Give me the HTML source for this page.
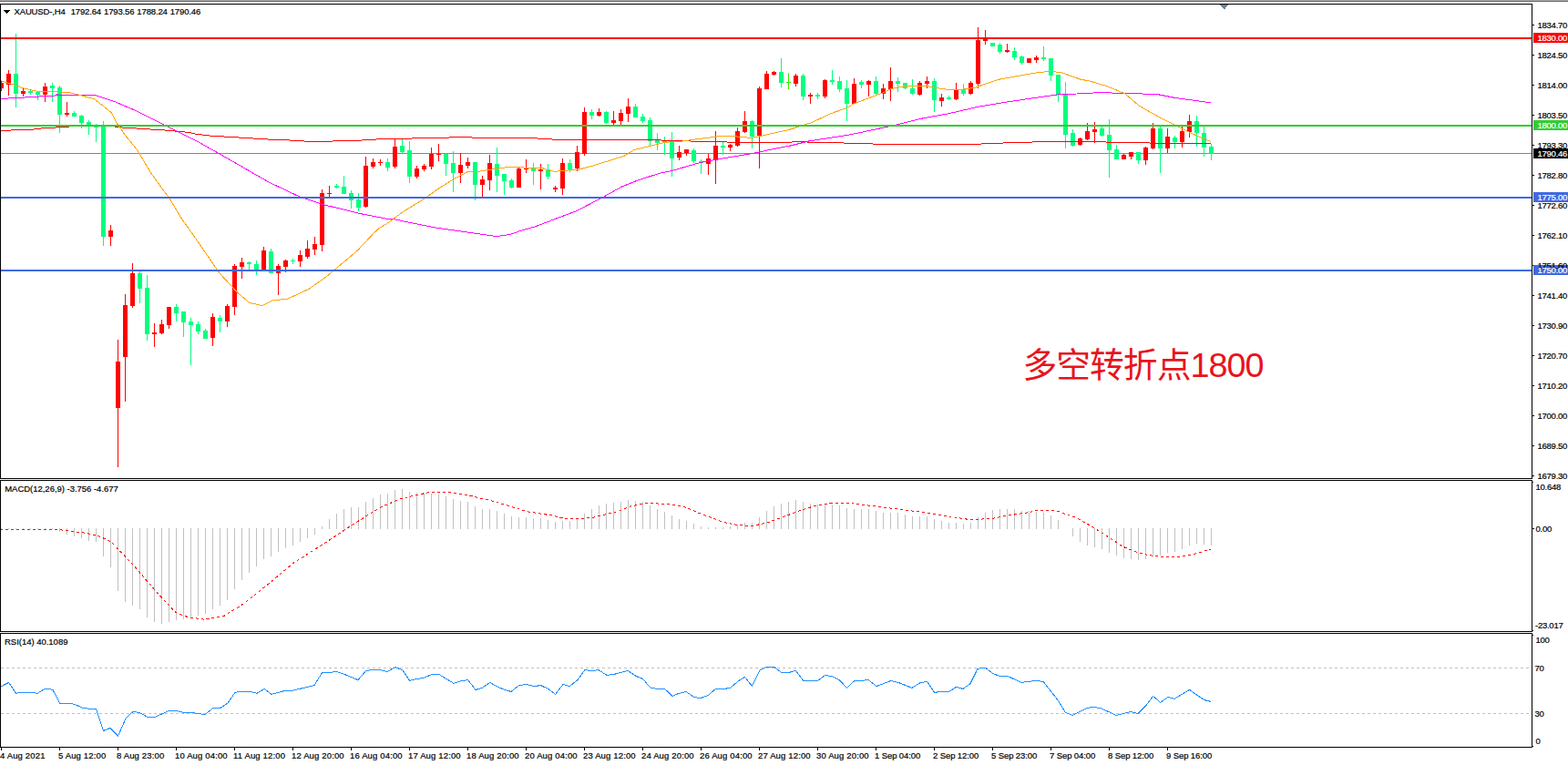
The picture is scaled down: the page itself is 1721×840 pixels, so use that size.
<!DOCTYPE html><html><head><meta charset="utf-8"><title>XAUUSD H4</title><style>
html,body{margin:0;padding:0;background:#fff}body{width:1721px;height:840px;overflow:hidden;position:relative;font-family:"Liberation Sans",sans-serif}
svg{position:absolute;left:0;top:0;display:block}
text{font-family:"Liberation Sans",sans-serif;font-size:9.5px;fill:#000;stroke:#000;stroke-width:0.2px}
.ax{letter-spacing:-0.25px}.tt{letter-spacing:-0.14px;word-spacing:0.5px}.ds{letter-spacing:-0.1px}.lb{letter-spacing:-0.02px}.dt{letter-spacing:0.15px}.w{fill:#fff;stroke:#fff}
</style></head><body>
<svg width="1721" height="840" viewBox="0 0 1721 840">
<rect width="1721" height="840" fill="#fff"/>
<g shape-rendering="crispEdges">
<rect x="0" y="0" width="1721" height="1" fill="#a9a9a9"/><rect x="0" y="1" width="1721" height="1" fill="#696969"/>
<rect x="1" y="168" width="1680" height="1" fill="#778899"/>
<path d="M1 89h1v11h-1zM-1 91h5v6h-5zM9 77h1v28h-1zM7 81h5v12h-5zM25 97h1v9h-1zM23 100h5v3h-5zM49 91h1v21h-1zM47 95h5v9h-5zM73 112h1v16h-1zM71 124h5v2h-5zM121 247h1v23h-1zM119 253h5v7h-5zM129 373h1v140h-1zM127 397h5v51h-5zM137 323h1v118h-1zM135 335h5v57h-5zM145 289h1v49h-1zM143 300h5v36h-5zM169 355h1v26h-1zM167 365h5v2h-5zM177 351h1v16h-1zM175 356h5v10h-5zM185 337h1v24h-1zM183 337h5v20h-5zM233 344h1v36h-1zM231 348h5v23h-5zM249 334h1v25h-1zM247 336h5v17h-5zM257 290h1v56h-1zM255 292h5v45h-5zM265 283h1v23h-1zM263 288h5v5h-5zM289 271h1v26h-1zM287 275h5v22h-5zM305 290h1v34h-1zM303 292h5v8h-5zM313 285h1v14h-1zM311 286h5v7h-5zM329 275h1v18h-1zM327 280h5v7h-5zM337 264h1v20h-1zM335 273h5v9h-5zM345 260h1v20h-1zM343 268h5v6h-5zM353 208h1v68h-1zM351 212h5v57h-5zM361 204h1v13h-1zM359 212h5v1h-5zM401 172h1v56h-1zM399 182h5v45h-5zM409 174h1v11h-1zM407 178h5v5h-5zM417 175h1v7h-1zM415 178h5v1h-5zM433 153h1v32h-1zM431 161h5v22h-5zM457 182h1v14h-1zM455 185h5v9h-5zM465 180h1v8h-1zM463 182h5v4h-5zM473 162h1v24h-1zM471 169h5v14h-5zM481 158h1v19h-1zM479 169h5v1h-5zM505 168h1v33h-1zM503 181h5v9h-5zM513 173h1v12h-1zM511 178h5v4h-5zM529 193h1v24h-1zM527 197h5v6h-5zM537 170h1v39h-1zM535 179h5v19h-5zM569 184h1v22h-1zM567 185h5v21h-5zM577 175h1v15h-1zM575 185h5v1h-5zM593 180h1v28h-1zM591 186h5v2h-5zM609 204h1v7h-1zM607 206h5v2h-5zM617 174h1v40h-1zM615 179h5v28h-5zM633 160h1v28h-1zM631 167h5v18h-5zM641 118h1v53h-1zM639 123h5v46h-5zM657 119h1v9h-1zM655 123h5v4h-5zM673 122h1v15h-1zM671 132h5v3h-5zM681 120h1v17h-1zM679 124h5v9h-5zM689 108h1v26h-1zM687 117h5v8h-5zM745 160h1v16h-1zM743 167h5v6h-5zM753 164h1v7h-1zM751 164h5v4h-5zM777 169h1v23h-1zM775 174h5v6h-5zM785 144h1v58h-1zM783 160h5v16h-5zM801 158h1v8h-1zM799 159h5v3h-5zM809 140h1v21h-1zM807 144h5v16h-5zM817 122h1v24h-1zM815 133h5v12h-5zM833 95h1v90h-1zM831 97h5v52h-5zM841 78h1v20h-1zM839 81h5v17h-5zM849 78h1v5h-1zM847 79h5v3h-5zM873 81h1v14h-1zM871 83h5v9h-5zM889 102h1v12h-1zM887 104h5v2h-5zM905 87h1v21h-1zM903 88h5v18h-5zM937 86h1v28h-1zM935 92h5v22h-5zM953 88h1v18h-1zM951 89h5v4h-5zM969 92h1v17h-1zM967 97h5v6h-5zM977 74h1v37h-1zM975 89h5v9h-5zM1009 89h1v16h-1zM1007 91h5v13h-5zM1017 84h1v13h-1zM1015 89h5v3h-5zM1033 103h1v14h-1zM1031 107h5v4h-5zM1049 91h1v19h-1zM1047 99h5v10h-5zM1065 89h1v15h-1zM1063 91h5v12h-5zM1073 30h1v67h-1zM1071 44h5v48h-5zM1081 33h1v16h-1zM1079 43h5v2h-5zM1105 48h1v10h-1zM1103 55h5v2h-5zM1129 64h1v5h-1zM1127 64h5v5h-5zM1137 61h1v8h-1zM1135 63h5v3h-5zM1185 151h1v9h-1zM1183 152h5v7h-5zM1193 135h1v19h-1zM1191 144h5v9h-5zM1201 134h1v23h-1zM1199 142h5v3h-5zM1233 169h1v6h-1zM1231 170h5v5h-5zM1241 167h1v8h-1zM1239 167h5v5h-5zM1257 161h1v20h-1zM1255 162h5v14h-5zM1265 135h1v29h-1zM1263 141h5v22h-5zM1281 141h1v27h-1zM1279 150h5v13h-5zM1297 139h1v23h-1zM1295 144h5v12h-5zM1305 126h1v25h-1zM1303 133h5v12h-5z" fill="#ff0000"/>
<path d="M17 37h1v81h-1zM15 81h5v22h-5zM33 99h1v5h-1zM31 100h5v2h-5zM41 100h1v10h-1zM39 101h5v3h-5zM57 91h1v21h-1zM55 94h5v3h-5zM65 94h1v52h-1zM63 96h5v30h-5zM81 122h1v6h-1zM79 124h5v4h-5zM89 126h1v15h-1zM87 127h5v8h-5zM97 132h1v16h-1zM95 134h5v3h-5zM105 136h1v20h-1zM103 138h5v2h-5zM113 133h1v137h-1zM111 137h5v123h-5zM153 298h1v35h-1zM151 300h5v17h-5zM161 302h1v72h-1zM159 316h5v51h-5zM193 334h1v19h-1zM191 337h5v7h-5zM201 342h1v28h-1zM199 342h5v12h-5zM209 349h1v52h-1zM207 353h5v4h-5zM217 353h1v14h-1zM215 356h5v8h-5zM225 361h1v11h-1zM223 363h5v9h-5zM241 346h1v19h-1zM239 349h5v4h-5zM273 287h1v10h-1zM271 288h5v2h-5zM281 286h1v16h-1zM279 290h5v6h-5zM297 273h1v27h-1zM295 276h5v24h-5zM321 284h1v6h-1zM319 286h5v1h-5zM369 202h1v5h-1zM367 204h5v2h-5zM377 193h1v20h-1zM375 205h5v8h-5zM385 209h1v20h-1zM383 212h5v8h-5zM393 212h1v20h-1zM391 219h5v9h-5zM425 174h1v14h-1zM423 178h5v6h-5zM441 153h1v15h-1zM439 160h5v7h-5zM449 155h1v46h-1zM447 165h5v29h-5zM489 168h1v25h-1zM487 169h5v11h-5zM497 166h1v45h-1zM495 179h5v11h-5zM521 178h1v42h-1zM519 178h5v25h-5zM545 162h1v49h-1zM543 180h5v13h-5zM553 191h1v23h-1zM551 191h5v8h-5zM561 196h1v11h-1zM559 198h5v8h-5zM585 179h1v24h-1zM583 185h5v3h-5zM601 180h1v17h-1zM599 186h5v8h-5zM625 175h1v14h-1zM623 179h5v7h-5zM649 120h1v11h-1zM647 123h5v4h-5zM665 122h1v14h-1zM663 123h5v12h-5zM697 114h1v15h-1zM695 117h5v12h-5zM705 125h1v10h-1zM703 128h5v5h-5zM713 129h1v31h-1zM711 132h5v23h-5zM721 146h1v19h-1zM719 154h5v3h-5zM729 150h1v20h-1zM727 155h5v2h-5zM737 145h1v49h-1zM735 155h5v19h-5zM761 163h1v16h-1zM759 165h5v12h-5zM769 175h1v16h-1zM767 177h5v2h-5zM793 156h1v14h-1zM791 160h5v2h-5zM825 132h1v31h-1zM823 133h5v17h-5zM857 64h1v32h-1zM855 79h5v12h-5zM881 81h1v29h-1zM879 83h5v23h-5zM897 102h1v7h-1zM895 104h5v2h-5zM913 77h1v16h-1zM911 88h5v2h-5zM921 84h1v17h-1zM919 89h5v9h-5zM929 88h1v45h-1zM927 97h5v17h-5zM945 88h1v9h-1zM943 90h5v3h-5zM961 84h1v20h-1zM959 89h5v14h-5zM985 85h1v16h-1zM983 89h5v3h-5zM993 91h1v7h-1zM991 91h5v6h-5zM1001 87h1v17h-1zM999 97h5v6h-5zM1025 86h1v37h-1zM1023 89h5v21h-5zM1041 105h1v5h-1zM1039 107h5v2h-5zM1057 92h1v13h-1zM1055 98h5v5h-5zM1089 47h1v4h-1zM1087 47h5v4h-5zM1097 47h1v12h-1zM1095 49h5v8h-5zM1113 52h1v14h-1zM1111 56h5v7h-5zM1121 61h1v10h-1zM1119 62h5v7h-5zM1145 51h1v16h-1zM1143 63h5v2h-5zM1153 64h1v25h-1zM1151 64h5v19h-5zM1161 82h1v30h-1zM1159 82h5v22h-5zM1169 90h1v73h-1zM1167 103h5v45h-5zM1177 142h1v19h-1zM1175 146h5v14h-5zM1209 139h1v11h-1zM1207 141h5v8h-5zM1217 131h1v64h-1zM1215 148h5v17h-5zM1225 159h1v16h-1zM1223 164h5v11h-5zM1249 167h1v13h-1zM1247 167h5v9h-5zM1273 139h1v51h-1zM1271 141h5v22h-5zM1289 149h1v14h-1zM1287 151h5v5h-5zM1313 127h1v34h-1zM1311 133h5v13h-5zM1321 139h1v33h-1zM1319 146h5v16h-5zM1329 158h1v18h-1zM1327 161h5v8h-5z" fill="#00ff7f"/>
<path d="M865 80h1v18h-1zM863 90h5v1h-5z" fill="#33ee00"/>
</g>
<g shape-rendering="crispEdges">
<path d="M0 143h12v1h-12zM12 142h25v1h-25zM37 141h8v1h-8zM45 140h16v1h-16zM61 139h15v1h-15zM76 138h50v1h-50zM126 139h8v1h-8zM134 140h16v1h-16zM150 141h15v1h-15zM165 142h16v1h-16zM181 143h11v1h-11zM192 144h11v1h-11zM203 145h7v1h-7zM210 146h4v1h-4zM214 147h8v1h-8zM222 148h8v1h-8zM230 149h16v1h-16zM246 150h16v1h-16zM262 151h16v1h-16zM278 152h16v1h-16zM294 153h24v1h-24zM318 154h16v1h-16zM334 155h31v1h-31zM365 154h32v1h-32zM397 153h16v1h-16zM413 152h39v1h-39zM452 151h41v1h-41zM493 150h25v1h-25zM518 151h72v1h-72zM590 152h16v1h-16zM606 153h120v1h-120zM726 154h32v1h-32zM758 155h40v1h-40zM798 156h71v1h-71zM869 155h17v1h-17zM886 156h40v1h-40zM926 157h32v1h-32zM958 158h119v1h-119zM1077 157h24v1h-24zM1101 156h32v1h-32zM1133 155h81v1h-81zM1214 156h48v1h-48zM1262 157h67v1h-67z" fill="#ff0000"/>
<polyline points="0,108.5 18.75,107.5 60,105 62.5,104 106,105 125,111.25 150,121.9 178.75,136.25 215,154.4 240,168.4 295,200 324,213.75 328.75,216 353.75,224.4 397.5,235 425,240.4 432.5,240.75 475,249.5 512.5,255 545,259.5 560,257.5 570,253.75 587.5,248.75 612.5,239.25 632.5,231.75 660,217.5 682.5,205 700,198 725,190 737.5,187.5 767.5,178.75 787.5,175 825,168.75 845,164.4 867.5,160 887.5,155 932.5,148 975,139 984,137 1012.5,130 1040,125 1072.5,117.5 1110,111.25 1160,104 1172.5,103.5 1214,101.25 1222.5,102.25 1246,102.75 1270,103.5 1290,107.5 1329,112.75" fill="none" stroke="#ff00ff" stroke-width="1" />
<polyline points="0,88.5 17.5,93.75 25.6,96.9 41,100.25 75,101.25 87.5,104.4 103.75,108.75 122.5,123.75 128.75,136.25 137.5,148.5 151.25,165.5 165,189 180,210 185,216.2 200,241 215,262.2 237.5,295 241,300 260,320.6 273.75,332.5 288,335.6 300,329.6 315,328.5 338.75,317.5 357.5,304.4 368.75,295 392.5,275 410,256.25 416,250.5 424,246 442.5,232.5 466,218 482.5,206.25 497.5,197 513,188.75 524,188.5 535,186.6 550,184.75 557.5,183.4 574,183.4 576,184.75 595,184.5 600,186.25 609,188.5 615,187.5 635,186.25 651,181.9 685,171.25 696,164.6 717.5,159.4 730,156.25 749,155 760,153.4 790,149.6 805,149.6 825,151.5 835,149.4 845,147 866,142.5 884,136.6 890,135 912.5,124.4 929,118.75 937.5,113.75 969,101.9 977.5,97.9 987.5,95.25 1000,94.4 1020,95 1030,96.9 1040,98.25 1050,98.75 1069,96.6 1082.5,91.9 1097.5,87 1122.5,82.5 1141,79.4 1154,78.4 1166,80 1185,86.9 1197.5,89.4 1216,95 1235,103 1250,116 1272.5,128.75 1290,137.5 1306,145.6 1329,155.6" fill="none" stroke="#ffa500" stroke-width="1" />
<rect x="1" y="41" width="1680" height="2" fill="#ff0000"/>
<rect x="1" y="137" width="1680" height="2" fill="#32cd32"/>
<rect x="1" y="216" width="1680" height="2" fill="#4169e1"/>
<rect x="1" y="296" width="1680" height="2" fill="#4169e1"/>
<path d="M65 580h1v4h-1zM73 580h1v7h-1zM81 580h1v9h-1zM89 580h1v11h-1zM97 580h1v14h-1zM105 580h1v15h-1zM113 580h1v31h-1zM121 580h1v43h-1zM129 580h1v69h-1zM137 580h1v81h-1zM145 580h1v85h-1zM153 580h1v89h-1zM161 580h1v98h-1zM169 580h1v103h-1zM177 580h1v105h-1zM185 580h1v103h-1zM193 580h1v101h-1zM201 580h1v100h-1zM209 580h1v98h-1zM217 580h1v96h-1zM225 580h1v94h-1zM233 580h1v89h-1zM241 580h1v85h-1zM249 580h1v79h-1zM257 580h1v67h-1zM265 580h1v57h-1zM273 580h1v49h-1zM281 580h1v42h-1zM289 580h1v34h-1zM297 580h1v31h-1zM305 580h1v26h-1zM313 580h1v22h-1zM321 580h1v19h-1zM329 580h1v15h-1zM337 580h1v11h-1zM345 580h1v7h-1zM353 578h1v3h-1zM361 570h1v11h-1zM369 564h1v17h-1zM377 559h1v22h-1zM385 557h1v24h-1zM393 557h1v24h-1zM401 551h1v30h-1zM409 547h1v34h-1zM417 543h1v38h-1zM425 542h1v39h-1zM433 538h1v43h-1zM441 537h1v44h-1zM449 540h1v41h-1zM457 541h1v40h-1zM465 542h1v39h-1zM473 542h1v39h-1zM481 543h1v38h-1zM489 545h1v36h-1zM497 548h1v33h-1zM505 550h1v31h-1zM513 551h1v30h-1zM521 556h1v25h-1zM529 559h1v22h-1zM537 559h1v22h-1zM545 561h1v20h-1zM553 564h1v17h-1zM561 567h1v14h-1zM569 568h1v13h-1zM577 568h1v13h-1zM585 569h1v12h-1zM593 569h1v12h-1zM601 571h1v10h-1zM609 573h1v8h-1zM617 572h1v9h-1zM625 572h1v9h-1zM633 570h1v11h-1zM641 564h1v17h-1zM649 559h1v22h-1zM657 555h1v26h-1zM665 553h1v28h-1zM673 552h1v29h-1zM681 551h1v30h-1zM689 549h1v32h-1zM697 550h1v31h-1zM705 551h1v30h-1zM713 555h1v26h-1zM721 559h1v22h-1zM729 562h1v19h-1zM737 566h1v15h-1zM745 570h1v11h-1zM753 572h1v9h-1zM761 575h1v6h-1zM769 578h1v3h-1zM777 579h1v2h-1zM785 579h1v2h-1zM793 579h1v2h-1zM801 578h1v3h-1zM809 576h1v5h-1zM817 574h1v7h-1zM825 574h1v7h-1zM833 568h1v13h-1zM841 561h1v20h-1zM849 556h1v25h-1zM857 553h1v28h-1zM865 551h1v30h-1zM873 549h1v32h-1zM881 551h1v30h-1zM889 553h1v28h-1zM897 554h1v27h-1zM905 554h1v27h-1zM913 554h1v27h-1zM921 555h1v26h-1zM929 558h1v23h-1zM937 559h1v22h-1zM945 559h1v22h-1zM953 559h1v22h-1zM961 561h1v20h-1zM969 563h1v18h-1zM977 563h1v18h-1zM985 563h1v18h-1zM993 565h1v16h-1zM1001 567h1v14h-1zM1009 567h1v14h-1zM1017 567h1v14h-1zM1025 570h1v11h-1zM1033 572h1v9h-1zM1041 574h1v7h-1zM1049 574h1v7h-1zM1057 575h1v6h-1zM1065 574h1v7h-1zM1073 568h1v13h-1zM1081 563h1v18h-1zM1089 560h1v21h-1zM1097 559h1v22h-1zM1105 559h1v22h-1zM1113 559h1v22h-1zM1121 561h1v20h-1zM1129 561h1v20h-1zM1137 562h1v19h-1zM1145 563h1v18h-1zM1153 566h1v15h-1zM1161 571h1v10h-1zM1177 580h1v9h-1zM1185 580h1v15h-1zM1193 580h1v19h-1zM1201 580h1v21h-1zM1209 580h1v23h-1zM1217 580h1v27h-1zM1225 580h1v30h-1zM1233 580h1v33h-1zM1241 580h1v34h-1zM1249 580h1v35h-1zM1257 580h1v34h-1zM1265 580h1v31h-1zM1273 580h1v30h-1zM1281 580h1v27h-1zM1289 580h1v26h-1zM1297 580h1v23h-1zM1305 580h1v19h-1zM1313 580h1v17h-1zM1321 580h1v18h-1zM1329 580h1v19h-1zM1 580h1v1h-1zM9 580h1v1h-1zM17 580h1v1h-1zM25 580h1v1h-1zM33 580h1v1h-1zM41 580h1v1h-1zM49 580h1v1h-1zM57 580h1v1h-1z" fill="#c0c0c0"/>
<polyline points="0,581.7 66,581.7 92,585 107,588 122,595 145.7,619.7 171.5,649.7 193,672.6 205.7,677.5 225,680.3 246.5,676 268,662.5 300,636.8 321.5,618.6 344,604.2 360,594 380,580.6 400,568 420,556 440,547.6 460,543 472,540.4 492,540.4 512,543.4 540,550 560,556 580,562 606,566 620,569.4 640,569.4 652,568 680,561 692,556 710,552.4 734,553.6 752,557 770,564.4 794,573.4 810,576.6 826,577.4 842,574 860,567.4 880,560 896,555 914,552.4 932,552.4 950,554.6 974,557.6 998,560.6 1022,563.6 1040,566.6 1064,570.6 1088,569.6 1104,566.4 1130,562.6 1138,560.6 1160,561 1168,564 1180,568 1200,579 1220,592 1232,600 1248,606.4 1260,609.6 1276,611.4 1292,611.4 1310,608.6 1320,605.6 1329,603.4" fill="none" stroke="#ff0000" stroke-width="1" stroke-dasharray="3 3"/>
<path d="M1 733.5H1681M1 783.5H1681" stroke="#c0c0c0" stroke-width="1" stroke-dasharray="3 3" fill="none"/>
<polyline points="0,754.4 9.6,749.4 17.6,761.4 22,760.4 37,760.4 41,761.4 50,756 58,757.4 65.4,772 76,772 82,773.4 90,777 96,778 105.4,778.4 113.6,802.4 121,799.4 129.6,808 138,789 146,781.4 153.6,782.6 162,787.4 170,787.4 185,780.6 194,780.6 202,782.4 210,782.4 225,784.6 234,777.4 242,777.4 250,772 258,760.4 262,759.4 275,759.4 282,761.4 290,756.4 298,762.4 312,758.6 322,758 345,752.6 353.6,738.4 362,738.4 369,737.4 377,740 393,746.6 401.6,736.6 408,735.6 418,735.6 425,737.6 434,732.4 442,736 449.6,747.4 458,745.4 465,744.4 473.6,740.6 482,740.6 498,750.4 505,748 513.6,746.6 522,757.4 529,755.6 537.6,749.4 546,754 553.6,757.4 561,759.4 569.6,752.6 578,751.4 586,753.6 593.6,752.6 602,756.6 609.6,762.4 618,751.4 625,753.6 633.6,747 642,735.6 649.6,736.6 657,735.6 666,741.4 674,740.4 689,736.4 698,742.4 705.6,745.4 713.6,755 721,756.4 729.6,756.4 738,764.4 745,761.4 753,759.4 761.6,765.4 769,766.6 777,763.6 785.6,756.4 795,756.4 801.6,755.4 810,748 817.6,743.4 825.4,753.4 834,736 841.6,732.4 849.6,732.4 857.6,738.4 866,738.4 873.6,736.4 881.6,747.4 897.6,747.4 905.6,741.6 913,742.4 921,746.6 929.6,755.4 938,747.4 946,747.4 953,746.4 962,753.6 978,747.4 986,749.4 1001,755.4 1010,749.6 1017.6,748.4 1025.6,760.4 1033,759.4 1041.6,759.4 1049.6,754.4 1057,756.4 1065,750.6 1073,734.4 1081,733 1089.6,739.4 1097,742.4 1106,742.4 1121,749.4 1129,748.4 1137,747.4 1145,748.4 1162,770 1169,782 1177,785.4 1193,777.4 1201,776.4 1209,778 1225,785.4 1233,783.4 1241,781.4 1249,783.4 1258,774.6 1265.6,764.4 1273.6,771.4 1282,765.4 1289,767.4 1297,762.6 1305.6,757.4 1314,763.4 1322,768.6 1329,770.4" fill="none" stroke="#1e90ff" stroke-width="1" />
<path d="M0 4h1682v1h-1682zM0 4h1v522h-1zM1681 4h1v522h-1zM0 527h1v167h-1zM1681 527h1v167h-1zM0 695h1v126h-1zM1681 695h1v126h-1zM0 525h1682v1h-1682zM0 527h1682v1h-1682zM0 693h1682v1h-1682zM0 695h1682v1h-1682zM0 820h1682v1h-1682zM1682 27h2v1h-2zM1682 60h2v1h-2zM1682 93h2v1h-2zM1682 126h2v1h-2zM1682 159h2v1h-2zM1682 192h2v1h-2zM1682 225h2v1h-2zM1682 258h2v1h-2zM1682 291h2v1h-2zM1682 324h2v1h-2zM1682 357h2v1h-2zM1682 390h2v1h-2zM1682 423h2v1h-2zM1682 456h2v1h-2zM1682 489h2v1h-2zM1682 522h2v1h-2zM1682 580h2v1h-2zM1682 529h1v1h-1zM1682 692h1v1h-1zM1682 697h1v1h-1zM1682 819h1v1h-1zM1 821h1v3h-1zM65 821h1v3h-1zM129 821h1v3h-1zM193 821h1v3h-1zM257 821h1v3h-1zM321 821h1v3h-1zM385 821h1v3h-1zM449 821h1v3h-1zM513 821h1v3h-1zM577 821h1v3h-1zM641 821h1v3h-1zM705 821h1v3h-1zM769 821h1v3h-1zM833 821h1v3h-1zM897 821h1v3h-1zM961 821h1v3h-1zM1025 821h1v3h-1zM1089 821h1v3h-1zM1153 821h1v3h-1zM1217 821h1v3h-1zM1281 821h1v3h-1z" fill="#000"/>
<rect x="1683" y="36" width="38" height="11" fill="#ff0000"/>
<rect x="1683" y="132" width="38" height="11" fill="#32cd32"/>
<rect x="1683" y="163" width="38" height="11" fill="#000"/>
<rect x="1683" y="211" width="38" height="11" fill="#4169e1"/>
<rect x="1683" y="291" width="38" height="11" fill="#4169e1"/>
<path d="M4 11h7l-3.5 4z" fill="#000"/>
<path d="M1339 5h9.5l-4.75 5.5z" fill="#708090"/>
</g>
<text x="1687.5" y="30.7" class="ax" >1834.70</text>
<text x="1687.5" y="63.7" class="ax" >1824.50</text>
<text x="1687.5" y="96.7" class="ax" >1814.00</text>
<text x="1687.5" y="129.7" class="ax" >1803.50</text>
<text x="1687.5" y="162.7" class="ax" >1793.30</text>
<text x="1687.5" y="195.7" class="ax" >1782.80</text>
<text x="1687.5" y="228.7" class="ax" >1772.60</text>
<text x="1687.5" y="261.7" class="ax" >1762.10</text>
<text x="1687.5" y="294.7" class="ax" >1751.60</text>
<text x="1687.5" y="327.7" class="ax" >1741.40</text>
<text x="1687.5" y="360.7" class="ax" >1730.90</text>
<text x="1687.5" y="393.7" class="ax" >1720.70</text>
<text x="1687.5" y="426.7" class="ax" >1710.20</text>
<text x="1687.5" y="459.7" class="ax" >1700.00</text>
<text x="1687.5" y="492.7" class="ax" >1689.50</text>
<text x="1687.5" y="525.7" class="ax" >1679.30</text>
<text x="1687.5" y="44.7" class="ax w" >1830.00</text>
<text x="1687.5" y="140.7" class="ax w" >1800.00</text>
<text x="1687.5" y="171.7" class="ax w" >1790.46</text>
<text x="1687.5" y="219.7" class="ax w" >1775.00</text>
<text x="1687.5" y="299.7" class="ax w" >1750.00</text>
<text x="1685.5" y="538" class="ax" >10.648</text>
<text x="1685.5" y="584" class="ax" >0.00</text>
<text x="1685" y="690" class="ax" >-23.017</text>
<text x="1685.5" y="706" class="ax" >100</text>
<text x="1684.5" y="737" class="ax" >70</text>
<text x="1684.5" y="787" class="ax" >30</text>
<text x="1685.5" y="817" class="ax" >0</text>
<text x="15.5" y="16" class="tt" xml:space="preserve">XAUUSD-,H4&#160;&#160;1792.64 1793.56 1788.24 1790.46</text>
<text x="5.2" y="539.5" class="lb" >MACD(12,26,9) -3.756 -4.677</text>
<text x="5" y="707.5" class="lb" >RSI(14) 40.1089</text>
<text x="0" y="833" class="dt" >4 Aug 2021</text>
<text x="64" y="833" class="dt" >5 Aug 12:00</text>
<text x="128" y="833" class="dt" >8 Aug 23:00</text>
<text x="192" y="833" class="dt" >10 Aug 04:00</text>
<text x="256" y="833" class="dt" >11 Aug 12:00</text>
<text x="320" y="833" class="dt" >12 Aug 20:00</text>
<text x="384" y="833" class="dt" >16 Aug 04:00</text>
<text x="448" y="833" class="dt" >17 Aug 12:00</text>
<text x="512" y="833" class="dt" >18 Aug 20:00</text>
<text x="576" y="833" class="dt" >20 Aug 04:00</text>
<text x="640" y="833" class="dt" >23 Aug 12:00</text>
<text x="704" y="833" class="dt" >24 Aug 20:00</text>
<text x="768" y="833" class="dt" >26 Aug 04:00</text>
<text x="832" y="833" class="dt" >27 Aug 12:00</text>
<text x="896" y="833" class="dt" >30 Aug 20:00</text>
<text x="960" y="833" class="ds" >1 Sep 04:00</text>
<text x="1024" y="833" class="ds" >2 Sep 12:00</text>
<text x="1088" y="833" class="ds" >5 Sep 23:00</text>
<text x="1152" y="833" class="ds" >7 Sep 04:00</text>
<text x="1216" y="833" class="ds" >8 Sep 12:00</text>
<text x="1280" y="833" class="ds" >9 Sep 16:00</text>
<text x="1122.5" y="414" textLength="265" lengthAdjust="spacing" style="font-family:'Liberation Sans','Noto Sans CJK SC',sans-serif;font-size:37.8px;fill:#e8141c;stroke:none;stroke-width:0">多空转折点1800</text>
</svg></body></html>
